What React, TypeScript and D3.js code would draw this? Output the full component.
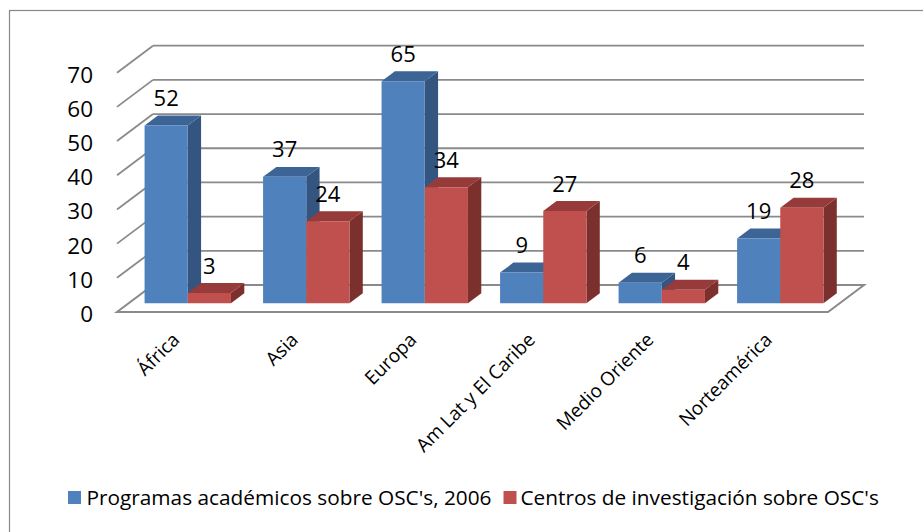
import React from "react";
import * as d3 from "d3";

const categories = ["África", "Asia", "Europa", "Am Lat y El Caribe", "Medio Oriente", "Norteamérica"];
const programas = [52, 37, 65, 9, 6, 19];
const centros = [3, 24, 34, 27, 4, 28];
const yTicks = [0, 10, 20, 30, 40, 50, 60, 70];
const seriesNames = ["Programas académicos sobre OSC's, 2006", "Centros de investigación sobre OSC's"];

const FONT = "'Open Sans', 'Liberation Sans', sans-serif";

const palette = [
  { front: "#4F81BD", top: "#3C6596", side: "#34557F" },
  { front: "#C0504D", top: "#963B39", side: "#7C302E" },
];

export default function App() {
  const W = 923, H = 532;
  const x0 = 117, x1 = 828, yBase = 312, yTop = 72.7;
  const DX = 36, DY = -27;
  const tFront = 0.32, tBack = 0.69;

  const x = d3.scaleBand<string>().domain(categories).range([x0, x1]).paddingInner(0.271).paddingOuter(0.1355);
  const xc = d3.scaleBand<string>().domain(categories).range([x0, x1]).padding(0);
  const xs = d3.scaleBand<number>().domain([0, 1]).range([0, x.bandwidth()]);
  const y = d3.scaleLinear().domain([0, 70]).range([yBase, yTop]);

  const P = (px: number, py: number, t: number) => [px + DX * t, py + DY * t];
  const poly = (pts: number[][]) => pts.map((p) => p.join(",")).join(" ");

  const series = [programas, centros];
  const bars: any[] = [];
  const labels: any[] = [];
  categories.forEach((c, i) => {
    series.forEach((vals, s) => {
      const v = vals[i];
      const bx0 = (x(c) as number) + (xs(s) as number);
      const bx1 = bx0 + xs.bandwidth();
      const yt = y(v), yb = y(0);
      const ftl = P(bx0, yt, tFront), ftr = P(bx1, yt, tFront), fbr = P(bx1, yb, tFront), fbl = P(bx0, yb, tFront);
      const btl = P(bx0, yt, tBack), btr = P(bx1, yt, tBack), bbr = P(bx1, yb, tBack);
      const col = palette[s];
      bars.push(
        <g key={`b${i}-${s}`}>
          <polygon points={poly([ftr, btr, bbr, fbr])} fill={col.side} />
          <polygon points={poly([ftl, ftr, btr, btl])} fill={col.top} />
          <polygon points={poly([ftl, ftr, fbr, fbl])} fill={col.front} />
        </g>
      );
      labels.push(
        <text key={`l${i}-${s}`} x={(ftl[0] + ftr[0]) / 2} y={btl[1] - 9.4} textAnchor="middle"
          fontSize={22} fontFamily={FONT} fill="#000">{v}</text>
      );
    });
  });

  const grid = "#8A8A8A";

  return (
    <svg width={W} height={H} style={{ position: "absolute", left: 0, top: 0 }}>
      <rect x={0} y={0} width={W} height={H} fill="#fff" />
      <rect x={9.5} y={10.5} width={W + 20} height={H + 20} fill="none" stroke="#878787" strokeWidth={1.2} />
      {/* floor */}
      <polygon points={poly([P(x0, yBase, 0), P(x1, yBase, 0), P(x1, yBase, 1), P(x0, yBase, 1)])}
        fill="#fff" stroke={grid} strokeWidth={2} />
      {/* walls gridlines */}
      {yTicks.filter((v) => v > 0).map((v) => {
        const a = P(x0, y(v), 0), b = P(x0, y(v), 1), c = P(x1, y(v), 1);
        return (
          <g key={`g${v}`}>
            <line x1={a[0]} y1={a[1]} x2={b[0]} y2={b[1]} stroke={grid} strokeWidth={1.8} />
            <line x1={b[0]} y1={b[1]} x2={c[0]} y2={c[1]} stroke={grid} strokeWidth={1.8} />
          </g>
        );
      })}
      {yTicks.map((v) => (
        <text key={`t${v}`} x={93} y={y(v) + 2} dy="0.35em" textAnchor="end" fontSize={22.5} fontFamily={FONT} fill="#000">{v}</text>
      ))}
      {bars}
      {labels}
      {categories.map((c) => {
        const cx = (xc(c) as number) + xc.bandwidth() / 2 + 4.5;
        return (
          <text key={`c${c}`} transform={`translate(${cx},341) rotate(-45)`} textAnchor="end"
            fontSize={19} fontFamily={FONT} fill="#000">{c}</text>
        );
      })}
      {/* legend */}
      <rect x={68} y={491} width={13} height={13} fill={palette[0].front} />
      <text x={86.5} y={505} fontSize={20.8} fontFamily={FONT} fill="#000">{seriesNames[0]}</text>
      <rect x={503.5} y={491} width={13} height={13} fill={palette[1].front} />
      <text x={520.5} y={505} fontSize={20.8} fontFamily={FONT} fill="#000">{seriesNames[1]}</text>
    </svg>
  );
}
